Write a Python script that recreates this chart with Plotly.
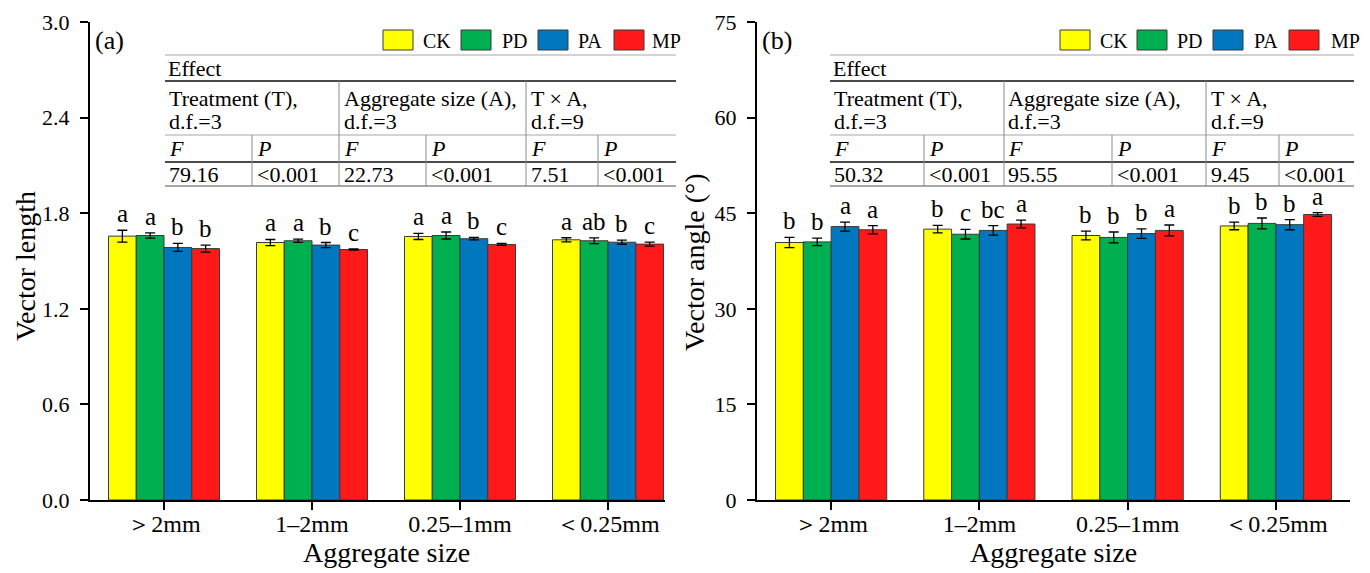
import plotly.graph_objects as go
import numpy as np

W, H = 1370, 573
FONT = "Liberation Serif, Times New Roman, serif"

# ---------------- data ----------------
categories = ["＞2mm", "1–2mm", "0.25–1mm", "＜0.25mm"]
treatments = ["CK", "PD", "PA", "MP"]
colors = ["#FFFF00", "#00B050", "#0077BE", "#FF1919"]

# (a) vector length
len_CK = [1.656, 1.616, 1.654, 1.633]
len_PD = [1.660, 1.627, 1.660, 1.627]
len_PA = [1.585, 1.600, 1.640, 1.618]
len_MP = [1.578, 1.572, 1.604, 1.606]
len_err_CK = [0.037, 0.019, 0.019, 0.013]
len_err_PD = [0.016, 0.010, 0.022, 0.018]
len_err_PA = [0.025, 0.016, 0.008, 0.013]
len_err_MP = [0.022, 0.004, 0.006, 0.013]
len_let_CK = ["a", "a", "a", "a"]
len_let_PD = ["a", "a", "a", "ab"]
len_let_PA = ["b", "b", "b", "b"]
len_let_MP = ["b", "c", "c", "c"]

# (b) vector angle
ang_CK = [40.4, 42.5, 41.5, 43.0]
ang_PD = [40.5, 41.7, 41.2, 43.4]
ang_PA = [42.9, 42.3, 41.8, 43.2]
ang_MP = [42.4, 43.3, 42.3, 44.8]
ang_err_CK = [0.8, 0.6, 0.7, 0.6]
ang_err_PD = [0.6, 0.75, 0.85, 0.85]
ang_err_PA = [0.7, 0.75, 0.75, 0.8]
ang_err_MP = [0.65, 0.6, 0.85, 0.3]
ang_let_CK = ["b", "b", "b", "b"]
ang_let_PD = ["b", "c", "b", "b"]
ang_let_PA = ["a", "bc", "b", "b"]
ang_let_MP = ["a", "a", "a", "a"]

# ANOVA tables
effect_names = ["Treatment (T),", "Aggregate size (A),", "T × A,"]
effect_df = ["d.f.=3", "d.f.=3", "d.f.=9"]
len_F = ["79.16", "22.73", "7.51"]
len_P = ["&lt;0.001", "&lt;0.001", "&lt;0.001"]
ang_F = ["50.32", "95.55", "9.45"]
ang_P = ["&lt;0.001", "&lt;0.001", "&lt;0.001"]

len_ticks = [0.0, 0.6, 1.2, 1.8, 2.4, 3.0]
ang_ticks = [0, 15, 30, 45, 60, 75]

# ---------------- figure ----------------
fig = go.Figure()
bw = 0.1875
offsets = [(k - 1.5) * bw for k in range(4)]
xs = np.arange(len(categories))

panels = [
    ("x", "y", [len_CK, len_PD, len_PA, len_MP],
     [len_err_CK, len_err_PD, len_err_PA, len_err_MP],
     [len_let_CK, len_let_PD, len_let_PA, len_let_MP]),
    ("x2", "y2", [ang_CK, ang_PD, ang_PA, ang_MP],
     [ang_err_CK, ang_err_PD, ang_err_PA, ang_err_MP],
     [ang_let_CK, ang_let_PD, ang_let_PA, ang_let_MP]),
]

annotations = []
shapes = []

for xa, ya, vals, errs, lets in panels:
    for k in range(4):
        fig.add_trace(go.Bar(
            x=xs + offsets[k], y=vals[k], width=bw, name=treatments[k],
            marker=dict(color=colors[k], line=dict(color="#3a3a3a", width=1)),
            error_y=dict(type="data", array=errs[k], color="black",
                         thickness=1.3, width=5),
            xaxis=xa, yaxis=ya, showlegend=False))
        for i in range(4):
            annotations.append(dict(
                x=xs[i] + offsets[k], y=vals[k][i] + errs[k][i],
                xref=xa, yref=ya, text=lets[k][i], showarrow=False,
                yanchor="bottom", yshift=1,
                font=dict(family=FONT, size=25, color="black")))


def px(x):
    return x / W


def py(y):
    return 1 - y / H


def txt(x, y, s, size=22, xanchor="left", italic=False, angle=0):
    annotations.append(dict(
        x=px(x), y=py(y), xref="paper", yref="paper", text=s,
        showarrow=False, xanchor=xanchor, yanchor="middle", textangle=angle,
        font=dict(family=FONT, size=size, color="black",
                  style="italic" if italic else "normal")))


def hline(x0, x1, y, color, width):
    shapes.append(dict(type="line", xref="paper", yref="paper",
                       x0=px(x0), x1=px(x1), y0=py(y), y1=py(y),
                       line=dict(color=color, width=width)))


def vline(x, y0, y1, color, width):
    shapes.append(dict(type="line", xref="paper", yref="paper",
                       x0=px(x), x1=px(x), y0=py(y0), y1=py(y1),
                       line=dict(color=color, width=width)))


tables = [
    (165, 676, [252, 339, 426, 526, 598], [167, 255, 342, 429, 529, 601],
     len_F, len_P, [383, 461, 538, 614], [423, 502, 578, 652], 95, "(a)"),
    (830, 1354, [924, 1004, 1112, 1206, 1279], [832, 927, 1006, 1115, 1209, 1282],
     ang_F, ang_P, [1060, 1137, 1213, 1289], [1100, 1177, 1254, 1331], 762, "(b)"),
]

LIGHT = "#c4c4c4"
DARK = "#4a4a4a"
for (x0, x1, divs, tx, Fv, Pv, boxes, ltx, plx, plabel) in tables:
    hline(x0, x1, 55, LIGHT, 1.5)
    hline(x0, x1, 81, DARK, 2)
    hline(x0, x1, 135, LIGHT, 1.5)
    hline(x0, x1, 162, DARK, 2)
    hline(x0, x1, 186, "#8a8a8a", 1.5)
    vline(divs[1], 81, 186, "#8a8a8a", 1)
    vline(divs[3], 81, 186, "#8a8a8a", 1)
    vline(divs[0], 135, 186, "#8a8a8a", 1)
    vline(divs[2], 135, 186, "#8a8a8a", 1)
    vline(divs[4], 135, 186, "#8a8a8a", 1)
    txt(x0 + 1, 69, "Effect")
    for j in range(3):
        txt(tx[2 * j], 98, effect_names[j])
        txt(tx[2 * j], 122, effect_df[j])
        txt(tx[2 * j], 149, "F", italic=True)
        txt(tx[2 * j + 1], 149, "P", italic=True)
        txt(tx[2 * j], 174, Fv[j])
        txt(tx[2 * j + 1], 174, Pv[j])
    # legend
    for k in range(4):
        shapes.append(dict(type="rect", xref="paper", yref="paper",
                           x0=px(boxes[k]), x1=px(boxes[k] + 30),
                           y0=py(50), y1=py(30),
                           fillcolor=colors[k],
                           line=dict(color="#3a3a3a", width=1)))
        txt(ltx[k] - 2, 41, treatments[k], size=20)
    txt(plx - 2, 41, plabel, size=26)

# axis titles
txt(25, 266, "Vector length", size=28, xanchor="center", angle=-90)
txt(694, 262, "Vector angle (°)", size=28, xanchor="center", angle=-90)
txt(387, 552, "Aggregate size", size=28, xanchor="center")
txt(1053, 552, "Aggregate size", size=28, xanchor="center")

ydom = [73 / H, 551 / H]
common_x = dict(
    tickmode="array", tickvals=list(xs), ticktext=categories,
    showline=True, linecolor="black", linewidth=2, ticks="outside",
    ticklen=8, tickwidth=2, tickcolor="black", showgrid=False, zeroline=False,
    tickfont=dict(family=FONT, size=24, color="black"), automargin=False,
    ticklabelstandoff=-7)
common_y = dict(
    showline=True, linecolor="black", linewidth=2, ticks="outside",
    ticklen=8, tickwidth=2, tickcolor="black", showgrid=False, zeroline=False,
    tickfont=dict(family=FONT, size=22, color="black"), ticklabelstandoff=6,
    automargin=False)

fig.update_layout(
    width=W, height=H, margin=dict(l=0, r=0, t=0, b=0, autoexpand=False),
    paper_bgcolor="white", plot_bgcolor="white",
    xaxis=dict(domain=[90 / W, 665 / W], range=[-0.5, 3.385], anchor="y", **common_x),
    yaxis=dict(domain=ydom, range=[0, 3.0], anchor="x", tickvals=len_ticks,
               tickformat=".1f", **common_y),
    xaxis2=dict(domain=[757 / W, 1350 / W], range=[-0.5, 3.5], anchor="y2", **common_x),
    yaxis2=dict(domain=ydom, range=[0, 75], anchor="x2", tickvals=ang_ticks,
                tickformat="d", **common_y),
    annotations=annotations, shapes=shapes, showlegend=False,
)

fig.write_html("out.html")
